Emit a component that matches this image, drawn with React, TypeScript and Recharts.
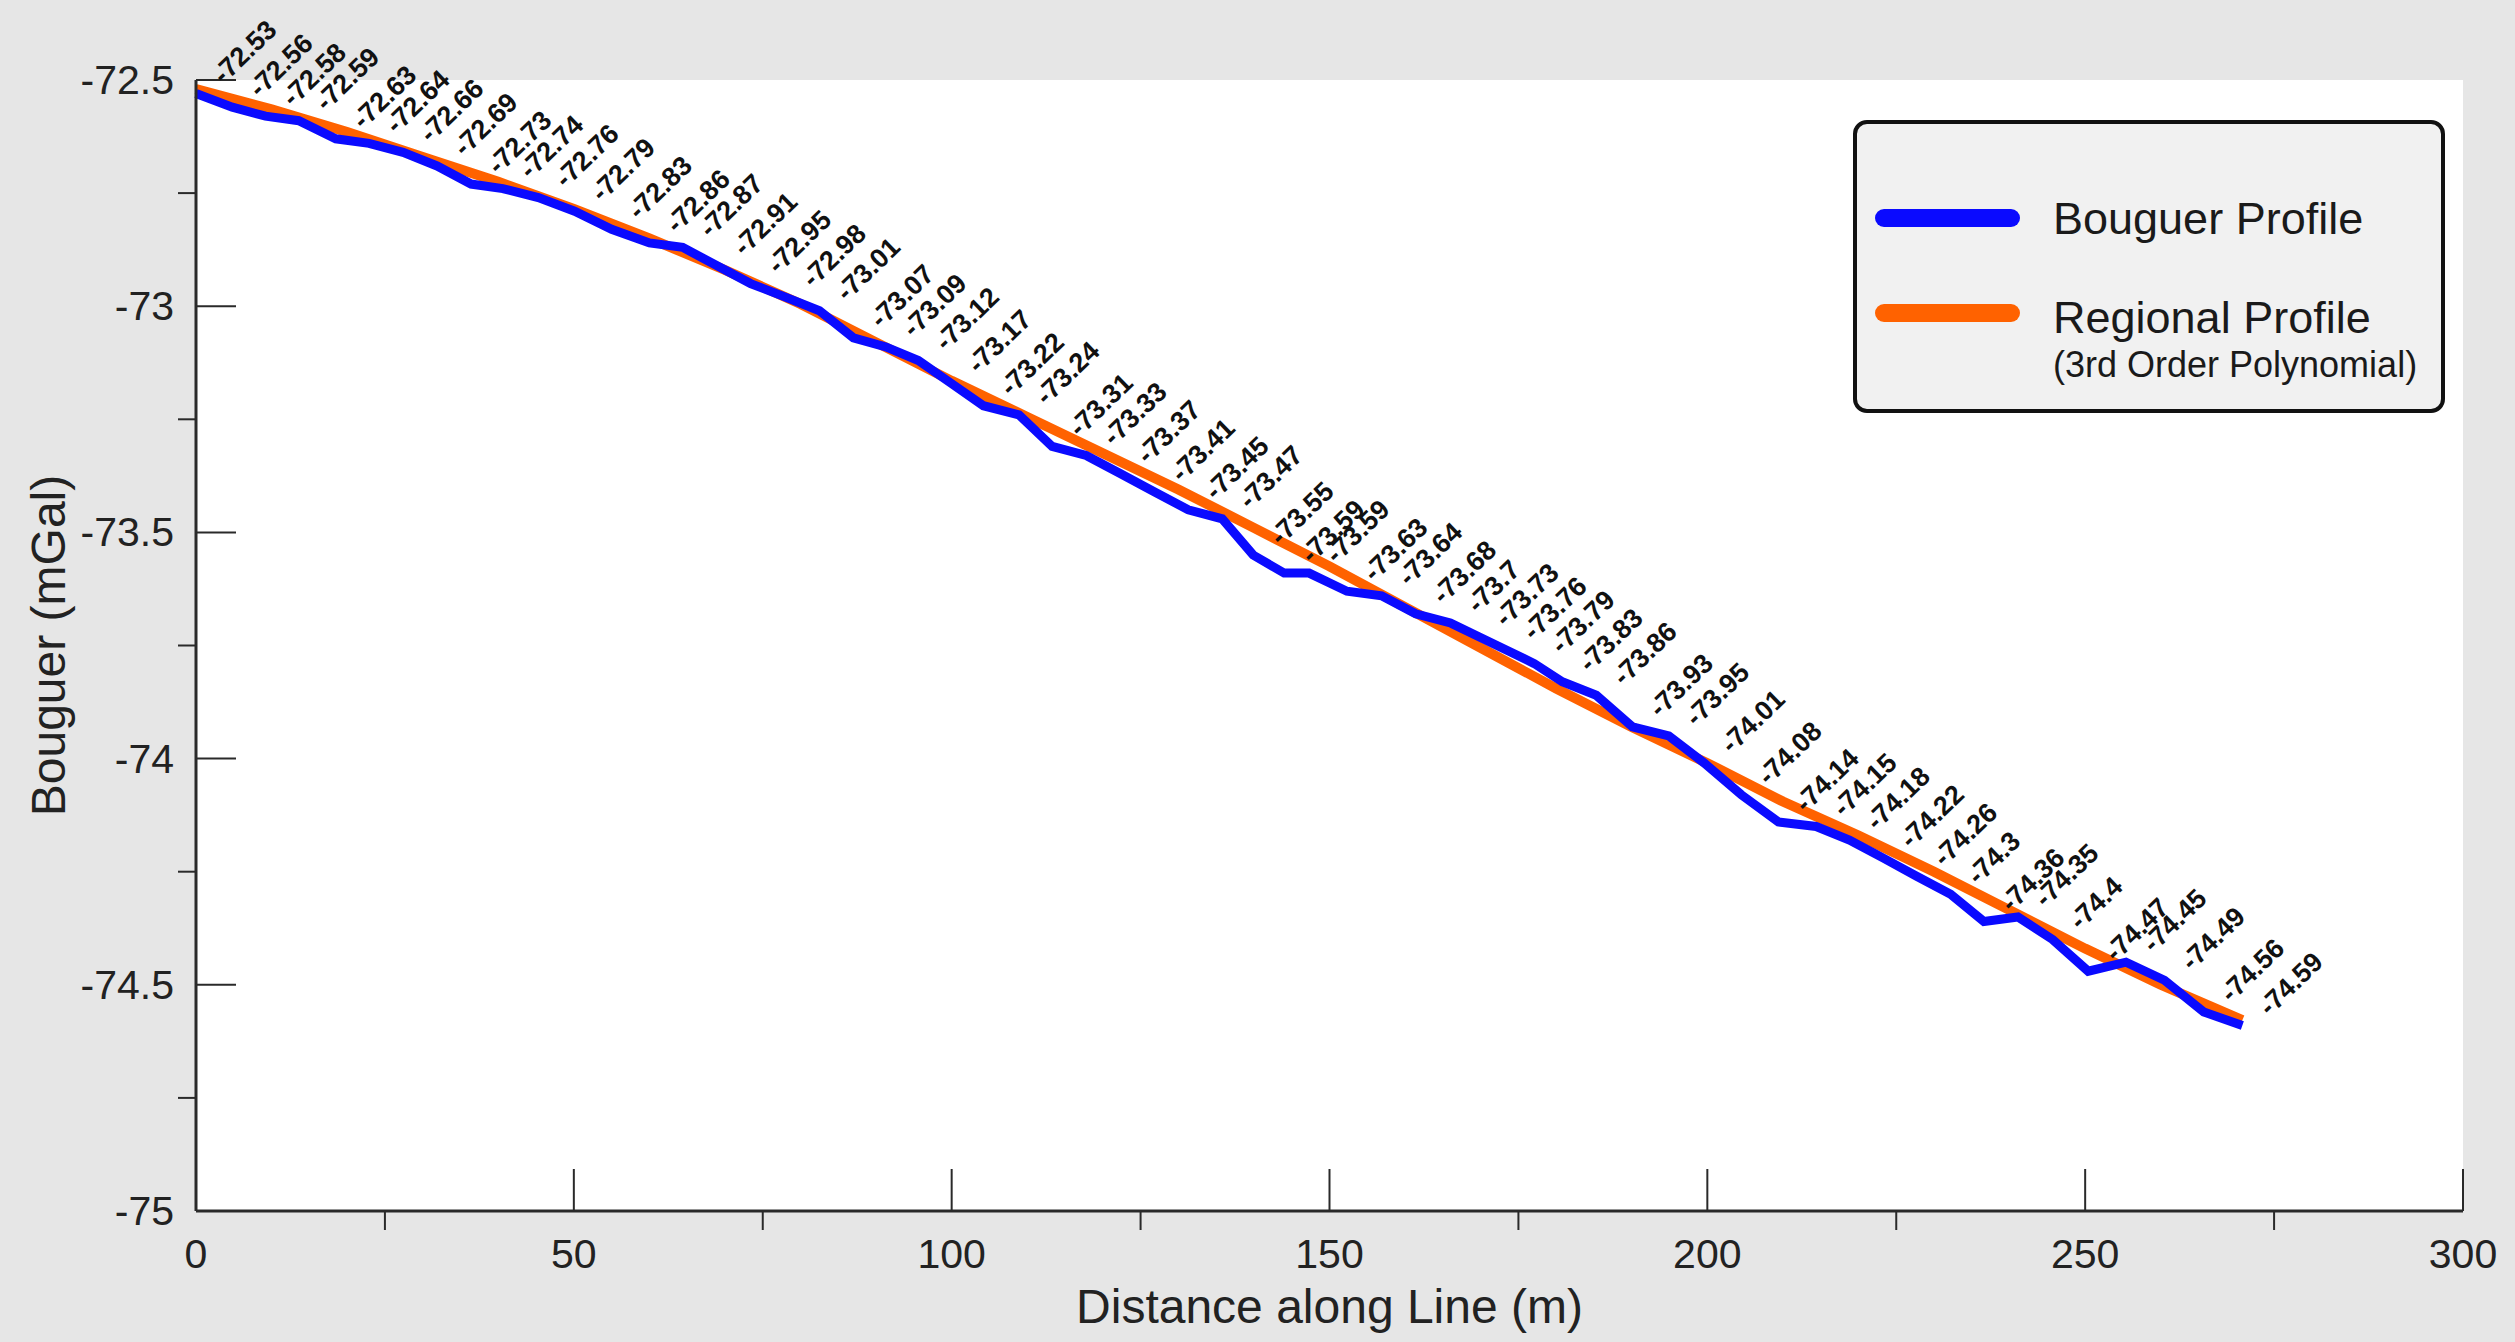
import { CartesianGrid, Label, Legend, Line, LineChart, XAxis, YAxis } from "recharts";

// station positions along the line (m) and measured Bouguer anomaly (mGal)
const distance = [
  0, 4.8, 9.2, 13.6, 18.5, 22.9, 27.4, 31.9, 36.4, 40.6, 45.3, 50.1, 55.0, 60.0, 64.4, 68.9, 73.4, 78.0, 82.5, 87.0,
  91.3, 95.6, 99.9, 104.2, 108.9, 113.3, 117.8, 122.3, 126.8, 131.3, 135.8, 139.9, 144.0, 147.3, 152.3, 156.9, 161.4,
  166.0, 169.7, 173.4, 177.1, 180.8, 185.3, 190.1, 194.9, 199.6, 204.5, 209.4, 214.4, 218.8, 223.3, 227.7, 232.2,
  236.6, 241.1, 245.7, 250.4, 255.4, 260.5, 265.7, 270.8,
];
const bouguer = [
  -72.53, -72.56, -72.58, -72.59, -72.63, -72.64, -72.66, -72.69, -72.73, -72.74, -72.76, -72.79, -72.83, -72.86,
  -72.87, -72.91, -72.95, -72.98, -73.01, -73.07, -73.09, -73.12, -73.17, -73.22, -73.24, -73.31, -73.33, -73.37,
  -73.41, -73.45, -73.47, -73.55, -73.59, -73.59, -73.63, -73.64, -73.68, -73.7, -73.73, -73.76, -73.79, -73.83,
  -73.86, -73.93, -73.95, -74.01, -74.08, -74.14, -74.15, -74.18, -74.22, -74.26, -74.3, -74.36, -74.35, -74.4,
  -74.47, -74.45, -74.49, -74.56, -74.59,
];

// regional trend (3rd order polynomial)
const regionalDistance = [0, 10, 20, 30, 40, 50, 60, 70, 80, 90, 100, 110, 120, 130, 140, 150, 160, 170, 180, 190, 200, 210, 220, 230, 240, 250, 260, 270.8];
const regional = [
  -72.52, -72.565, -72.615, -72.67, -72.725, -72.785, -72.85, -72.92, -72.995, -73.08, -73.165, -73.245, -73.325,
  -73.405, -73.49, -73.575, -73.665, -73.755, -73.845, -73.93, -74.01, -74.095, -74.17, -74.25, -74.335, -74.42,
  -74.5, -74.578,
];

const xTicks = [0, 25, 50, 75, 100, 125, 150, 175, 200, 225, 250, 275, 300];
const yTicks = [-75, -74.75, -74.5, -74.25, -74, -73.75, -73.5, -73.25, -73, -72.75, -72.5];

const bouguerData = distance.map((d, i) => ({ distance: d, value: bouguer[i] }));
const regionalData = regionalDistance.map((d, i) => ({ distance: d, value: regional[i] }));

const FONT = "'Liberation Sans', Arial, sans-serif";
const AXIS = "#2a2a2a";

const XTick = (props: any) => {
  const { x, y, payload } = props;
  const v = payload.value;
  if (v % 50 === 0) {
    return (
      <g>
        <line x1={x} x2={x} y1={y} y2={y - 42} stroke={AXIS} strokeWidth={2} />
        <text x={x} y={y + 57} textAnchor="middle" fontSize={41} fontFamily={FONT} fill="#222">
          {v}
        </text>
      </g>
    );
  }
  return <line x1={x} x2={x} y1={y} y2={y + 19} stroke={AXIS} strokeWidth={2} />;
};

const YTick = (props: any) => {
  const { x, y, payload } = props;
  const v = payload.value;
  const major = Math.abs(v * 2 - Math.round(v * 2)) < 1e-6;
  if (major) {
    return (
      <g>
        <line x1={x} x2={x + 40} y1={y} y2={y} stroke={AXIS} strokeWidth={2} />
        <text x={x - 22} y={y} textAnchor="end" dominantBaseline="central" fontSize={41} fontFamily={FONT} fill="#222">
          {v}
        </text>
      </g>
    );
  }
  return <line x1={x - 18} x2={x} y1={y} y2={y} stroke={AXIS} strokeWidth={2} />;
};

const pointLabel = (props: any) => {
  const { x, y, value } = props;
  const lx = x + 21;
  const ly = y - 15;
  return (
    <text
      x={lx}
      y={ly}
      transform={`rotate(-44, ${lx}, ${ly})`}
      fontSize={27}
      fontWeight="bold"
      fontFamily={FONT}
      fill="#111"
      dominantBaseline="central"
    >
      {value}
    </text>
  );
};

const LegendBox = (props: any) => {
  const items = props.payload || [];
  const blue = items.find((p: any) => p.value === "Bouguer Profile");
  const orange = items.find((p: any) => p.value === "Regional Profile");
  return (
    <div
      style={{
        width: 592,
        height: 293,
        boxSizing: "border-box",
        border: "4px solid #111",
        borderRadius: 14,
        background: "#f1f1f1",
      }}
    >
      <svg width={584} height={285} style={{ display: "block" }}>
        <line x1={27} x2={154} y1={94} y2={94} stroke={blue?.color} strokeWidth={18} strokeLinecap="round" />
        <text x={196} y={94} dominantBaseline="central" fontSize={45} fontFamily={FONT} fill="#1a1a1a">
          Bouguer Profile
        </text>
        <line x1={27} x2={154} y1={189} y2={189} stroke={orange?.color} strokeWidth={18} strokeLinecap="round" />
        <text x={196} y={193} dominantBaseline="central" fontSize={45} fontFamily={FONT} fill="#1a1a1a">
          Regional Profile
        </text>
        <text x={196} y={240} dominantBaseline="central" fontSize={36} fontFamily={FONT} fill="#1a1a1a">
          (3rd Order Polynomial)
        </text>
      </svg>
    </div>
  );
};

export default function App() {
  return (
    <div style={{ width: 2515, height: 1342, background: "#e6e6e6" }}>
      <style>{"body{margin:0;background:#e6e6e6}"}</style>
      <LineChart width={2515} height={1342} margin={{ top: 80, right: 52, bottom: 31, left: 76 }}>
        <CartesianGrid fill="#ffffff" horizontal={false} vertical={false} />
        <XAxis
          dataKey="distance"
          type="number"
          domain={[0, 300]}
          ticks={xTicks}
          interval={0}
          height={100}
          tickSize={0}
          tickMargin={0}
          tickLine={false}
          tick={<XTick />}
          axisLine={{ stroke: AXIS, strokeWidth: 3 }}
          allowDuplicatedCategory={false}
        >
          <Label
            content={(p: any) => {
              const vb = p.viewBox;
              return (
                <text x={vb.x + vb.width / 2} y={1323} textAnchor="middle" fontSize={48} fontFamily={FONT} fill="#222">
                  Distance along Line (m)
                </text>
              );
            }}
          />
        </XAxis>
        <YAxis
          type="number"
          domain={[-75, -72.5]}
          ticks={yTicks}
          interval={0}
          width={120}
          tickSize={0}
          tickMargin={0}
          tickLine={false}
          tick={<YTick />}
          axisLine={{ stroke: AXIS, strokeWidth: 3 }}
          allowDataOverflow
        >
          <Label
            content={(p: any) => {
              const vb = p.viewBox;
              const cy = vb.y + vb.height / 2;
              return (
                <text
                  x={48}
                  y={cy}
                  transform={`rotate(-90, 48, ${cy})`}
                  textAnchor="middle"
                  dominantBaseline="central"
                  fontSize={48}
                  fontFamily={FONT}
                  fill="#222"
                >
                  Bouguer (mGal)
                </text>
              );
            }}
          />
        </YAxis>
        <Legend
          layout="vertical"
          align="center"
          verticalAlign="middle"
          content={<LegendBox />}
          wrapperStyle={{ position: "absolute", left: 1853, top: 120, width: 592, height: 293, bottom: "auto", right: "auto" }}
        />
        <Line
          data={regionalData}
          dataKey="value"
          name="Regional Profile"
          stroke="#ff6200"
          strokeWidth={10}
          dot={false}
          isAnimationActive={false}
        />
        <Line
          data={bouguerData}
          dataKey="value"
          name="Bouguer Profile"
          stroke="#0a0aff"
          strokeWidth={9}
          dot={false}
          label={pointLabel}
          isAnimationActive={false}
        />
      </LineChart>
    </div>
  );
}
